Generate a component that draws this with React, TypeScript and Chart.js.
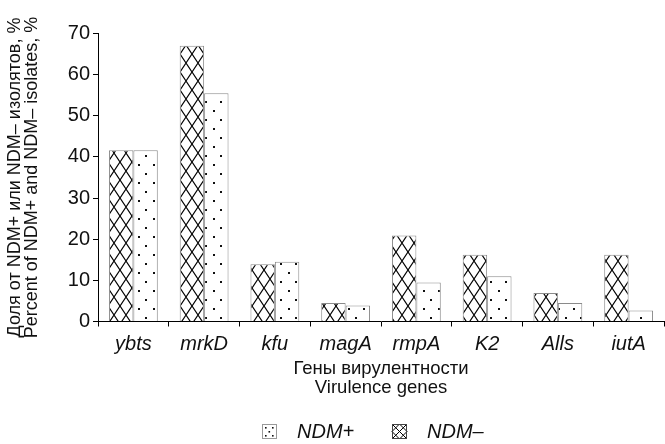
import React, { useEffect, useRef } from 'react';
import { Chart, registerables } from 'chart.js';

Chart.register(...registerables);

const categories = ['ybts', 'mrkD', 'kfu', 'magA', 'rmpA', 'K2', 'Alls', 'iutA'];
const ndmMinus = [41.6, 67.0, 13.9, 4.5, 20.9, 16.2, 6.9, 16.2];
const ndmPlus = [41.6, 55.5, 14.5, 3.9, 9.5, 11.0, 4.5, 2.7];
const seriesLabels = ['NDM–', 'NDM+'];
const legendOrder = [1, 0];
const yTitle = ['Доля от NDM+ или NDM– изолятов, %', 'Percent of NDM+ and NDM– isolates, %'];
const xTitle = ['Гены вирулентности', 'Virulence genes'];
const yMin = 0;
const yMax = 70;
const yStep = 10;

const FONT = "'Liberation Sans', Arial, sans-serif";
const TEXT = '#111';

function makeCross(ctx: CanvasRenderingContext2D): CanvasPattern {
  const c = document.createElement('canvas');
  c.width = 12;
  c.height = 18;
  const g = c.getContext('2d')!;
  g.fillStyle = '#fff';
  g.fillRect(0, 0, 12, 18);
  g.strokeStyle = '#000';
  g.lineWidth = 1.2;
  g.beginPath();
  g.moveTo(0, 0);
  g.lineTo(12, 18);
  g.moveTo(12, 0);
  g.lineTo(0, 18);
  g.stroke();
  return ctx.createPattern(c, 'repeat')!;
}

function makeDots(ctx: CanvasRenderingContext2D): CanvasPattern {
  const c = document.createElement('canvas');
  c.width = 15;
  c.height = 18;
  const g = c.getContext('2d')!;
  g.fillStyle = '#fff';
  g.fillRect(0, 0, 15, 18);
  g.fillStyle = '#111';
  g.fillRect(3, 2, 2, 2);
  g.fillRect(10, 11, 2, 2);
  return ctx.createPattern(c, 'repeat')!;
}

export default function App() {
  const ref = useRef<HTMLCanvasElement | null>(null);

  useEffect(() => {
    const canvas = ref.current!;
    const ctx = canvas.getContext('2d')!;
    const cross = makeCross(ctx);
    const dots = makeDots(ctx);

    const drawSwatch = (c: CanvasRenderingContext2D, di: number, x: number, y: number) => {
      c.fillStyle = '#fff';
      c.fillRect(x, y, 15, 15);
      if (di === 1) {
        c.fillStyle = '#111';
        [[3, 3], [10, 3], [6.5, 7], [3, 11], [10, 11]].forEach(([dx, dy]) => {
          c.fillRect(x + dx, y + dy, 1.6, 1.6);
        });
        c.strokeStyle = '#999';
      } else {
        c.strokeStyle = '#000';
        c.lineWidth = 1;
        c.beginPath();
        c.moveTo(x, y);
        c.lineTo(x + 15, y + 15);
        c.moveTo(x + 15, y);
        c.lineTo(x, y + 15);
        c.moveTo(x + 7.5, y);
        c.lineTo(x + 15, y + 7.5);
        c.lineTo(x + 7.5, y + 15);
        c.lineTo(x, y + 7.5);
        c.closePath();
        c.stroke();
        c.strokeStyle = '#444';
      }
      c.lineWidth = 1;
      c.strokeRect(x + 0.5, y + 0.5, 14, 14);
    };

    const legendPlugin = {
      id: 'customLegend',
      afterDraw(chart: any) {
        const c = chart.ctx as CanvasRenderingContext2D;
        const area = chart.chartArea;
        let x = area.left + 164;
        const y = 424;
        c.save();
        c.font = `italic 20px ${FONT}`;
        c.textBaseline = 'middle';
        c.textAlign = 'left';
        legendOrder.forEach((di) => {
          drawSwatch(c, di, x, y);
          c.fillStyle = TEXT;
          c.fillText(seriesLabels[di], x + 35, y + 8);
          x += 130;
        });
        c.restore();
      },
    };

    const chart = new Chart(canvas, {
      type: 'bar',
      data: {
        labels: categories,
        datasets: [
          {
            label: seriesLabels[0],
            data: ndmMinus,
            backgroundColor: cross,
            borderColor: '#8a8a8a',
            borderWidth: 1,
            categoryPercentage: 0.69,
            barPercentage: 1.0,
          },
          {
            label: seriesLabels[1],
            data: ndmPlus,
            backgroundColor: dots,
            borderColor: '#8a8a8a',
            borderWidth: 1,
            categoryPercentage: 0.69,
            barPercentage: 1.0,
          },
        ],
      },
      options: {
        responsive: false,
        animation: false,
        layout: { padding: { left: 0, right: 1, top: 33.5, bottom: 46 } },
        plugins: {
          legend: { display: false },
          tooltip: { enabled: false },
        },
        scales: {
          x: {
            afterFit: (s: any) => {
              s.height = 76.5;
            },
            grid: {
              display: true,
              drawOnChartArea: false,
              drawTicks: true,
              tickLength: 5,
              color: '#000',
              offset: true,
            },
            border: { display: true, color: '#000', width: 1 },
            ticks: {
              color: TEXT,
              padding: 6,
              font: { family: FONT, size: 20, style: 'italic' },
            },
            title: {
              display: true,
              text: xTitle,
              color: TEXT,
              font: { family: FONT, size: 18.5, lineHeight: 19.5 / 18.5 },
              padding: { top: 0, bottom: 0 },
            },
          },
          y: {
            min: yMin,
            max: yMax,
            afterFit: (s: any) => {
              s.width = 98;
            },
            grid: {
              display: true,
              drawOnChartArea: false,
              drawTicks: true,
              tickLength: 5,
              color: '#000',
            },
            border: { display: true, color: '#000', width: 1 },
            ticks: {
              stepSize: yStep,
              color: TEXT,
              padding: 3,
              font: { family: FONT, size: 20 },
            },
            title: {
              display: true,
              text: yTitle,
              color: TEXT,
              font: { family: FONT, size: 18, lineHeight: 16.5 / 18 },
              padding: { top: 7, bottom: 0 },
            },
          },
        },
      },
      plugins: [legendPlugin],
    });

    return () => chart.destroy();
  }, []);

  return (
    <div style={{ position: 'fixed', left: 0, top: 0, width: 665, height: 444, background: '#fff' }}>
      <canvas ref={ref} width={665} height={444} />
    </div>
  );
}
